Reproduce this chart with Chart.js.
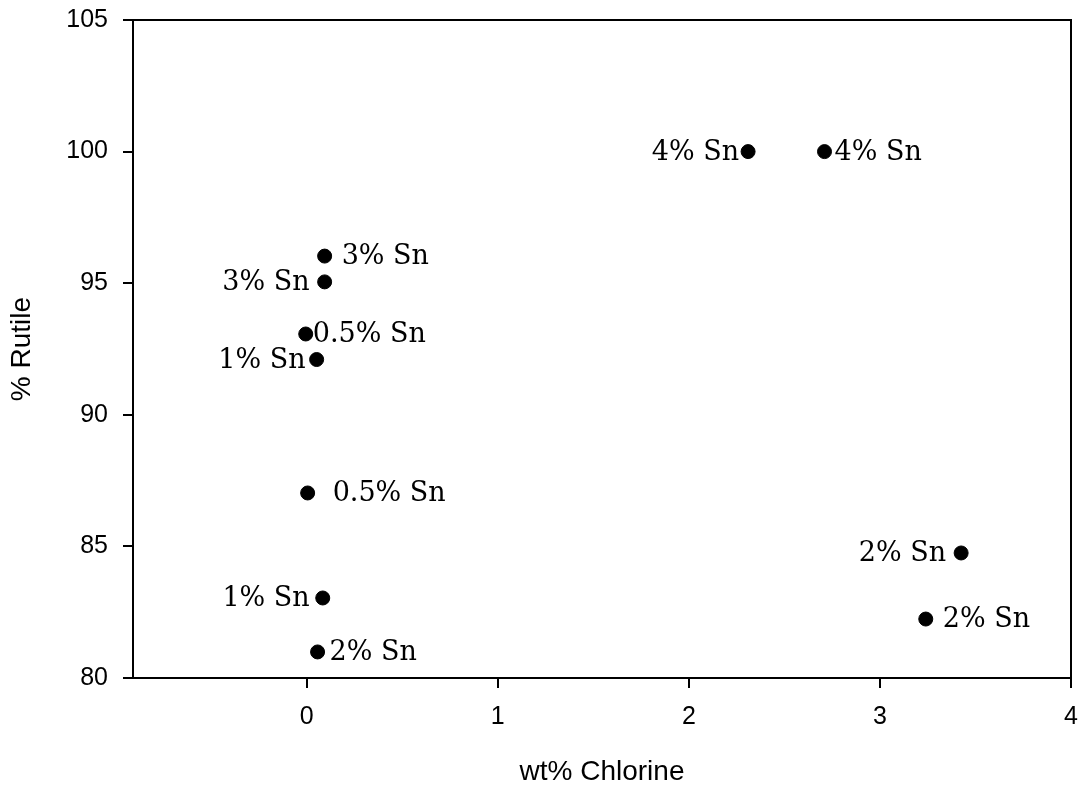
<!DOCTYPE html>
<html>
<head>
<meta charset="utf-8">
<script src="https://cdn.jsdelivr.net/npm/chart.js"></script>
<style>
body { margin: 0; background: #fff; }
</style>
</head>
<body>
<canvas id="myChart" width="1079" height="786"></canvas>
<script>
// data
const chlorine = [2.31, 2.71, 0.094, 0.094, -0.005, 0.052, 0.005, 0.084, 0.057, 3.425, 3.24];
const rutile = [100, 100, 96.03, 95.05, 93.07, 92.1, 87.03, 83.04, 80.99, 84.75, 82.24];
const tinLabels = ['4% Sn', '4% Sn', '3% Sn', '3% Sn', '0.5% Sn', '1% Sn', '0.5% Sn', '1% Sn', '2% Sn', '2% Sn', '2% Sn'];
const xTicks = [0, 1, 2, 3, 4];
const yTicks = [80, 85, 90, 95, 100, 105];

// where each label sits next to its dot (px, minus = left)
const labelOffsets = [-9, 10, 17, -15, 7, -11, 25, -13, 12, -15, 17];

const points = chlorine.map((x, i) => ({ x: x, y: rutile[i] }));

// point labels, drawn next to each dot
const pointLabels = {
    id: 'pointLabels',
    afterDatasetsDraw(chart) {
        const ctx = chart.ctx;
        const meta = chart.getDatasetMeta(0);
        ctx.save();
        ctx.font = '27px "DejaVu Serif"';
        ctx.fillStyle = '#000';
        ctx.textBaseline = 'middle';
        meta.data.forEach((el, i) => {
            const off = labelOffsets[i];
            ctx.textAlign = off < 0 ? 'right' : 'left';
            ctx.fillText(tinLabels[i], el.x + off, el.y + 1);
        });
        ctx.restore();
    }
};

// box round the plot area
const frame = {
    id: 'frame',
    afterDraw(chart) {
        const a = chart.chartArea;
        const ctx = chart.ctx;
        ctx.save();
        ctx.strokeStyle = '#000';
        ctx.lineWidth = 2;
        ctx.strokeRect(a.left, a.top, a.right - a.left, a.bottom - a.top);
        ctx.restore();
    }
};

const tickFont = { family: '"Liberation Sans", Arial, sans-serif', size: 25 };
const titleFont = { family: '"Liberation Sans", Arial, sans-serif', size: 28, lineHeight: 1 };

new Chart(document.getElementById('myChart').getContext('2d'), {
    type: 'scatter',
    data: {
        datasets: [{
            data: points,
            backgroundColor: '#000',
            borderColor: '#000',
            pointRadius: 7,
            pointHoverRadius: 7
        }]
    },
    options: {
        responsive: false,
        animation: false,
        layout: { padding: { left: 0, top: 20, right: 5, bottom: 0 } },
        plugins: {
            legend: { display: false },
            tooltip: { enabled: false }
        },
        scales: {
            x: {
                type: 'linear',
                min: -0.909,
                max: 4,
                afterBuildTicks: s => { s.ticks = xTicks.map(v => ({ value: v })); },
                afterFit: s => { s.height = 108; s.paddingLeft = 0; s.paddingRight = 0; },
                border: { color: '#000', width: 2 },
                grid: { drawOnChartArea: false, tickLength: 10, color: '#000', lineWidth: 2 },
                ticks: { color: '#000', font: tickFont, padding: 14, maxRotation: 0 },
                title: {
                    display: true,
                    text: 'wt% Chlorine',
                    color: '#000',
                    font: titleFont,
                    padding: { top: 0, bottom: 0 }
                }
            },
            y: {
                type: 'linear',
                min: 80,
                max: 105,
                afterBuildTicks: s => { s.ticks = yTicks.map(v => ({ value: v })); },
                afterFit: s => { s.width = 133; s.paddingTop = 0; s.paddingBottom = 0; },
                border: { color: '#000', width: 2 },
                grid: { drawOnChartArea: false, tickLength: 10, color: '#000', lineWidth: 2 },
                ticks: { color: '#000', font: tickFont, padding: 15 },
                title: {
                    display: true,
                    text: '% Rutile',
                    color: '#000',
                    font: titleFont,
                    padding: { top: 8, bottom: 0 }
                }
            }
        }
    },
    plugins: [pointLabels, frame]
});
</script>
</body>
</html>
